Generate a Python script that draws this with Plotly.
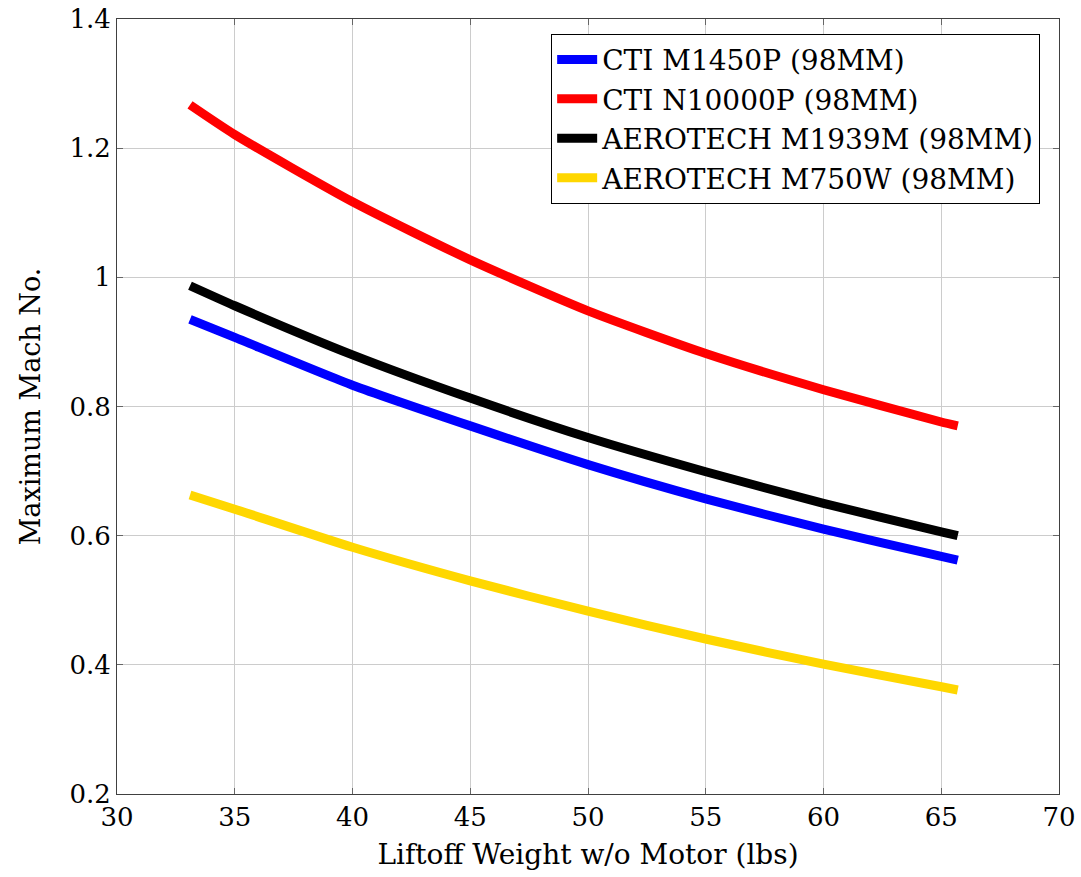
import plotly.graph_objects as go

weight = [33.1, 35, 40, 45, 50, 55, 60, 65, 65.7]
cti_m1450p = [0.935, 0.907, 0.833, 0.770, 0.710, 0.657, 0.610, 0.568, 0.562]
cti_n10000p = [1.267, 1.221, 1.117, 1.027, 0.948, 0.882, 0.826, 0.776, 0.770]
aero_m1939m = [0.987, 0.956, 0.880, 0.813, 0.752, 0.699, 0.650, 0.606, 0.600]
aero_m750w = [0.663, 0.641, 0.582, 0.530, 0.483, 0.440, 0.401, 0.366, 0.361]

series = [
    ("CTI M1450P (98MM)", cti_m1450p, "#0000ff"),
    ("CTI N10000P (98MM)", cti_n10000p, "#ff0000"),
    ("AEROTECH M1939M (98MM)", aero_m1939m, "#000000"),
    ("AEROTECH M750W (98MM)", aero_m750w, "#ffd700"),
]

FONT = "DejaVu Serif"

fig = go.Figure()
for name, vals, color in series:
    fig.add_trace(go.Scatter(
        x=weight, y=vals, mode="lines", name=name,
        line=dict(color=color, width=9, shape="spline", smoothing=0.6),
    ))

axis_common = dict(
    showgrid=True, gridcolor="#cccccc", gridwidth=1,
    showline=True, linecolor="#404040", linewidth=1, mirror="allticks",
    ticks="inside", ticklen=6, tickcolor="#666666", tickwidth=1,
    zeroline=False, automargin=False,
    tickfont=dict(family=FONT, size=26, color="#000000"),
)

fig.update_layout(
    width=1081, height=877,
    margin=dict(l=117, r=22, t=19, b=83),
    paper_bgcolor="white", plot_bgcolor="white",
    font=dict(family=FONT, color="#000000"),
    xaxis=dict(range=[30, 70], dtick=5, tick0=30,
               title=dict(text="Liftoff Weight w/o Motor (lbs)",
                          font=dict(family=FONT, size=28), standoff=13),
               **axis_common),
    yaxis=dict(range=[0.2, 1.4],
               tickvals=[0.2, 0.4, 0.6, 0.8, 1.0, 1.2, 1.4],
               ticktext=["0.2", "0.4", "0.6", "0.8", "1", "1.2", "1.4"],
               title=dict(text="Maximum Mach No.",
                          font=dict(family=FONT, size=27), standoff=20),
               **axis_common),
    legend=dict(
        x=0.98, y=0.981, xanchor="right", yanchor="top",
        bgcolor="white", bordercolor="#000000", borderwidth=1,
        font=dict(family=FONT, size=28, color="#000000"),
        tracegroupgap=0, itemwidth=40,
    ),
    showlegend=True,
)

fig.write_html("out.html")
